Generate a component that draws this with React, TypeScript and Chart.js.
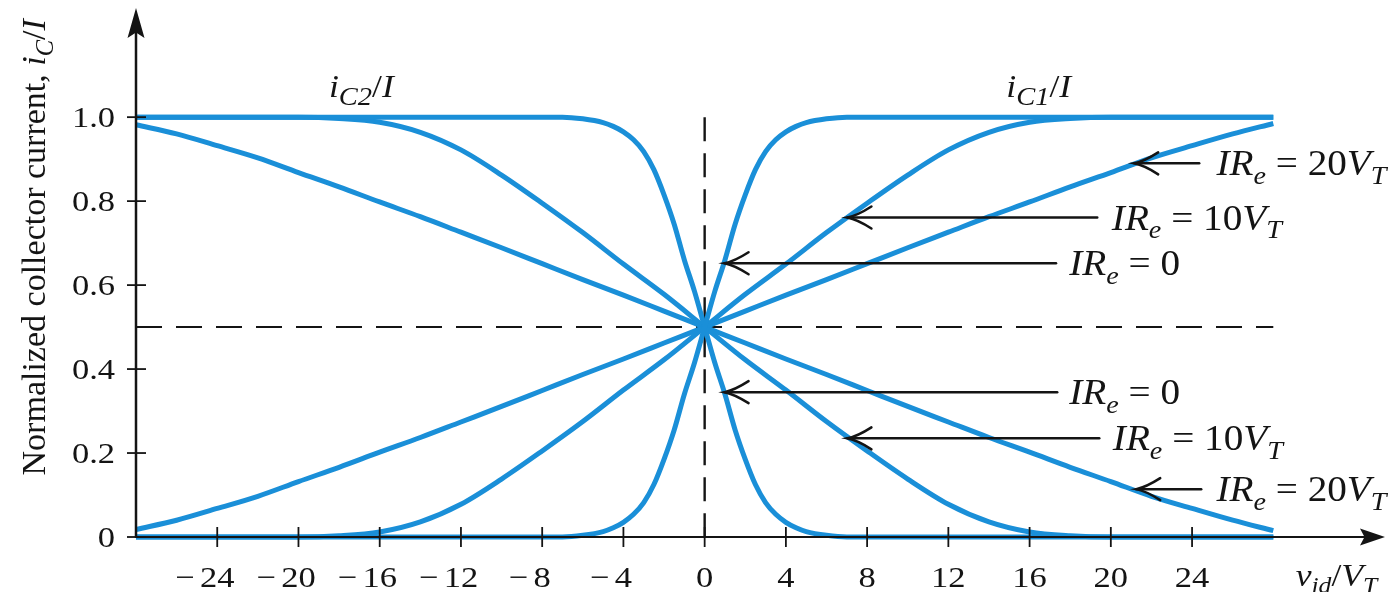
import React, { useEffect, useRef } from 'react';
import { Chart, registerables } from 'chart.js';

Chart.register(...registerables);

// Differential input v_id / V_T sample points for the IRe = 0 pair (dense near the origin)
const X_IRE0 = [-28, -7, -6, -5, -4.5, -4, -3.5, -3, -2.5, -2, -1.5, -1, -0.5, 0, 0.5, 1, 1.5, 2, 2.5, 3, 3.5, 4, 4.5, 5, 6, 7, 28];
const IC1_IRE0 = [0, 0, 0.004, 0.013, 0.022, 0.035, 0.054, 0.082, 0.125, 0.185, 0.255, 0.34, 0.415, 0.5, 0.585, 0.66, 0.745, 0.815, 0.875, 0.918, 0.946, 0.965, 0.978, 0.987, 0.996, 1, 1];
const IC2_IRE0 = [1, 1, 0.996, 0.987, 0.978, 0.965, 0.946, 0.918, 0.875, 0.815, 0.745, 0.66, 0.585, 0.5, 0.415, 0.34, 0.255, 0.185, 0.125, 0.082, 0.054, 0.035, 0.022, 0.013, 0.004, 0, 0];

// Sample points for the degenerated pairs (IRe = 10 V_T and 20 V_T)
const X_GRID = [-28, -26, -24, -22, -20, -18, -16, -14, -12, -10, -8, -6, -4, -2, 0, 2, 4, 6, 8, 10, 12, 14, 16, 18, 20, 22, 24, 26, 28];
const IC1_IRE10 = [0, 0, 0, 0, 0, 0.003, 0.012, 0.036, 0.078, 0.138, 0.205, 0.275, 0.35, 0.422, 0.5, 0.578, 0.65, 0.725, 0.795, 0.862, 0.922, 0.964, 0.988, 0.997, 1, 1, 1, 1, 1];
const IC2_IRE10 = [1, 1, 1, 1, 1, 0.997, 0.988, 0.964, 0.922, 0.862, 0.795, 0.725, 0.65, 0.578, 0.5, 0.422, 0.35, 0.275, 0.205, 0.138, 0.078, 0.036, 0.012, 0.003, 0, 0, 0, 0, 0];
const IC1_IRE20 = [0.018, 0.04, 0.068, 0.097, 0.132, 0.166, 0.202, 0.237, 0.274, 0.311, 0.349, 0.387, 0.424, 0.462, 0.5, 0.538, 0.576, 0.613, 0.651, 0.689, 0.726, 0.763, 0.798, 0.834, 0.868, 0.903, 0.932, 0.96, 0.985];
const IC2_IRE20 = [0.982, 0.96, 0.932, 0.903, 0.868, 0.834, 0.798, 0.763, 0.726, 0.689, 0.651, 0.613, 0.576, 0.538, 0.5, 0.462, 0.424, 0.387, 0.349, 0.311, 0.274, 0.237, 0.202, 0.166, 0.132, 0.097, 0.068, 0.04, 0.015];

// Axis ticks
const X_TICKS = [-24, -20, -16, -12, -8, -4, 0, 4, 8, 12, 16, 20, 24];
const Y_TICKS = [0, 0.2, 0.4, 0.6, 0.8, 1.0];
const Y_TICK_LABELS = ['0', '0.2', '0.4', '0.6', '0.8', '1.0'];

const X_MIN = -28;
const X_MAX = 33.5;
const Y_MAX = 1.26;
const CURVE_END = 28;

const BLUE = '#1a8fd8';
const INK = '#141414';
const SERIF = '"Liberation Serif", "Times New Roman", serif';

type Run = { t: string; it?: boolean; sub?: boolean };

const ire = (value: string): Run[] => {
  const runs: Run[] = [
    { t: 'IR', it: true },
    { t: 'e', it: true, sub: true },
    { t: ' = ' },
    { t: value },
  ];
  if (value !== '0') {
    runs.push({ t: 'V', it: true }, { t: 'T', it: true, sub: true });
  }
  return runs;
};

// Arrow call-outs: tip on the curve, tail and text to the right
const CALLOUTS = [
  { tipX: 21.15, y: 0.89, tailX: 24.35, textX: 25.2, text: ire('20') },
  { tipX: 7.03, y: 0.761, tailX: 19.33, textX: 20.05, text: ire('10') },
  { tipX: 0.98, y: 0.652, tailX: 17.3, textX: 17.95, text: ire('0') },
  { tipX: 0.98, y: 0.345, tailX: 17.36, textX: 17.95, text: ire('0') },
  { tipX: 7.03, y: 0.235, tailX: 19.43, textX: 20.1, text: ire('10') },
  { tipX: 21.25, y: 0.114, tailX: 24.45, textX: 25.2, text: ire('20') },
];

const fontOf = (size: number, it?: boolean) => `${it ? 'italic ' : ''}${size.toFixed(1)}px ${SERIF}`;

function runsWidth(ctx: CanvasRenderingContext2D, runs: Run[], size: number, subScale: number) {
  let w = 0;
  for (const r of runs) {
    ctx.font = fontOf(r.sub ? size * subScale : size, r.it);
    w += ctx.measureText(r.t).width;
  }
  return w;
}

function drawRuns(
  ctx: CanvasRenderingContext2D,
  runs: Run[],
  x: number,
  y: number,
  size: number,
  sx: number,
  align: 'left' | 'center' | 'right',
  subScale = 0.72
) {
  ctx.save();
  ctx.translate(x, y);
  ctx.scale(sx, 1);
  ctx.fillStyle = INK;
  ctx.textBaseline = 'alphabetic';
  ctx.textAlign = 'left';
  const w = runsWidth(ctx, runs, size, subScale);
  let cx = align === 'left' ? 0 : align === 'center' ? -w / 2 : -w;
  for (const r of runs) {
    const s = r.sub ? size * subScale : size;
    ctx.font = fontOf(s, r.it);
    ctx.fillText(r.t, cx, r.sub ? size * 0.24 : 0);
    cx += ctx.measureText(r.t).width;
  }
  ctx.restore();
}

function arrowHead(ctx: CanvasRenderingContext2D, tipX: number, tipY: number, dir: 'right' | 'up', len: number, half: number) {
  ctx.beginPath();
  if (dir === 'right') {
    ctx.moveTo(tipX, tipY);
    ctx.lineTo(tipX - len, tipY - half);
    ctx.lineTo(tipX - len * 0.82, tipY);
    ctx.lineTo(tipX - len, tipY + half);
  } else {
    ctx.moveTo(tipX, tipY);
    ctx.lineTo(tipX - half, tipY + len);
    ctx.lineTo(tipX, tipY + len * 0.82);
    ctx.lineTo(tipX + half, tipY + len);
  }
  ctx.closePath();
  ctx.fillStyle = INK;
  ctx.fill();
}

const guides = {
  id: 'guides',
  beforeDatasetsDraw(chart: any) {
    const { ctx, scales } = chart;
    const X = (v: number) => scales.x.getPixelForValue(v);
    const Y = (v: number) => scales.y.getPixelForValue(v);
    ctx.save();
    ctx.strokeStyle = INK;
    // horizontal dashed line at the balanced point
    ctx.lineWidth = 2;
    ctx.setLineDash([26, 14]);
    ctx.beginPath();
    ctx.moveTo(X(X_MIN), Y(0.5));
    ctx.lineTo(X(CURVE_END), Y(0.5));
    ctx.stroke();
    // vertical dashed line at v_id = 0
    ctx.lineWidth = 2.4;
    ctx.setLineDash([24, 12]);
    ctx.beginPath();
    ctx.moveTo(X(0), Y(1.0));
    ctx.lineTo(X(0), Y(0));
    ctx.stroke();
    ctx.restore();
  },
  afterDatasetsDraw(chart: any) {
    const { ctx, scales } = chart;
    const X = (v: number) => scales.x.getPixelForValue(v);
    const Y = (v: number) => scales.y.getPixelForValue(v);
    const x0 = X(X_MIN);
    const y0 = Y(0);
    ctx.save();
    ctx.strokeStyle = INK;
    ctx.setLineDash([]);

    // x axis
    ctx.lineWidth = 2;
    ctx.beginPath();
    ctx.moveTo(x0, y0);
    ctx.lineTo(X(X_MAX) - 10, y0);
    ctx.stroke();
    arrowHead(ctx, X(X_MAX), y0, 'right', 25, 8.5);

    // y axis
    ctx.lineWidth = 2.5;
    ctx.beginPath();
    ctx.moveTo(x0, y0 + 1);
    ctx.lineTo(x0, Y(Y_MAX) + 10);
    ctx.stroke();
    arrowHead(ctx, x0, Y(Y_MAX), 'up', 30, 8.5);

    // x ticks and labels
    ctx.lineWidth = 1.8;
    for (const t of X_TICKS) {
      const px = X(t);
      ctx.beginPath();
      ctx.moveTo(px, y0 - 10);
      ctx.lineTo(px, y0 + 10);
      ctx.stroke();
      const digits = String(Math.abs(t));
      drawRuns(ctx, [{ t: digits }], px, y0 + 50, 30, 1.15, 'center');
      if (t < 0) {
        ctx.save();
        ctx.font = fontOf(30);
        const dw = ctx.measureText(digits).width * 1.15;
        ctx.restore();
        drawRuns(ctx, [{ t: '\u2212' }], px - dw / 2 - 5, y0 + 50, 30, 1.15, 'right');
      }
    }

    // y ticks and labels
    Y_TICKS.forEach((t, i) => {
      const py = Y(t);
      ctx.beginPath();
      ctx.moveTo(x0 - 9, py);
      ctx.lineTo(x0 + 10, py);
      ctx.stroke();
      drawRuns(ctx, [{ t: Y_TICK_LABELS[i] }], x0 - 21, py + 10, 30, 1.15, 'right');
    });

    // axis titles
    drawRuns(
      ctx,
      [{ t: 'v', it: true }, { t: 'id', it: true, sub: true }, { t: '/' }, { t: 'V', it: true }, { t: 'T', it: true, sub: true }],
      X(29.1),
      y0 + 49,
      31,
      1.15,
      'left'
    );
    ctx.save();
    ctx.translate(x0 - 91, Y(0.69));
    ctx.rotate(-Math.PI / 2);
    drawRuns(
      ctx,
      [{ t: 'Normalized collector current, ' }, { t: 'i', it: true }, { t: 'C', it: true, sub: true }, { t: '/' }, { t: 'I', it: true }],
      0,
      0,
      34,
      1,
      'center'
    );
    ctx.restore();

    // curve family names
    drawRuns(ctx, [{ t: 'i', it: true }, { t: 'C2', it: true, sub: true }, { t: '/' }, { t: 'I', it: true }], X(-18.5), Y(1.047), 31, 1.15, 'left', 0.8);
    drawRuns(ctx, [{ t: 'i', it: true }, { t: 'C1', it: true, sub: true }, { t: '/' }, { t: 'I', it: true }], X(14.85), Y(1.047), 31, 1.15, 'left', 0.8);

    // call-out arrows
    ctx.lineWidth = 2.5;
    ctx.lineCap = 'round';
    for (const c of CALLOUTS) {
      const tx = X(c.tipX);
      const ty = Y(c.y);
      ctx.beginPath();
      ctx.moveTo(X(c.tailX), ty);
      ctx.lineTo(tx, ty);
      ctx.stroke();
      ctx.beginPath();
      ctx.moveTo(tx + 24, ty - 11);
      ctx.quadraticCurveTo(tx + 10, ty - 2, tx, ty);
      ctx.quadraticCurveTo(tx + 10, ty + 2, tx + 24, ty + 11);
      ctx.stroke();
      drawRuns(ctx, c.text, X(c.textX), ty + 12, 35, 1.12, 'left');
    }
    ctx.restore();
  },
};

const series = (xs: number[], ys: number[]) => xs.map((x, i) => ({ x, y: ys[i] }));

export default function App() {
  const canvasRef = useRef<HTMLCanvasElement>(null);

  useEffect(() => {
    const line = (label: string, xs: number[], ys: number[]) => ({
      label,
      data: series(xs, ys),
      borderColor: BLUE,
      borderWidth: 5,
      pointRadius: 0,
      fill: false,
      cubicInterpolationMode: 'monotone' as const,
      clip: false as const,
    });

    const chart = new Chart(canvasRef.current as HTMLCanvasElement, {
      type: 'line',
      data: {
        datasets: [
          line('iC1/I, IRe = 0', X_IRE0, IC1_IRE0),
          line('iC2/I, IRe = 0', X_IRE0, IC2_IRE0),
          line('iC1/I, IRe = 10VT', X_GRID, IC1_IRE10),
          line('iC2/I, IRe = 10VT', X_GRID, IC2_IRE10),
          line('iC1/I, IRe = 20VT', X_GRID, IC1_IRE20),
          line('iC2/I, IRe = 20VT', X_GRID, IC2_IRE20),
        ],
      },
      options: {
        animation: false,
        responsive: true,
        maintainAspectRatio: false,
        layout: { padding: { left: 136, right: 4, top: 8, bottom: 55 } },
        scales: {
          x: { type: 'linear', min: X_MIN, max: X_MAX, display: false },
          y: { type: 'linear', min: 0, max: Y_MAX, display: false },
        },
        plugins: {
          legend: { display: false },
          tooltip: { enabled: false },
        },
        events: [],
      },
      plugins: [guides],
    });
    return () => chart.destroy();
  }, []);

  return (
    <div style={{ position: 'fixed', left: 0, top: 0, width: 1389, height: 592, background: '#ffffff' }}>
      <canvas ref={canvasRef} />
    </div>
  );
}
